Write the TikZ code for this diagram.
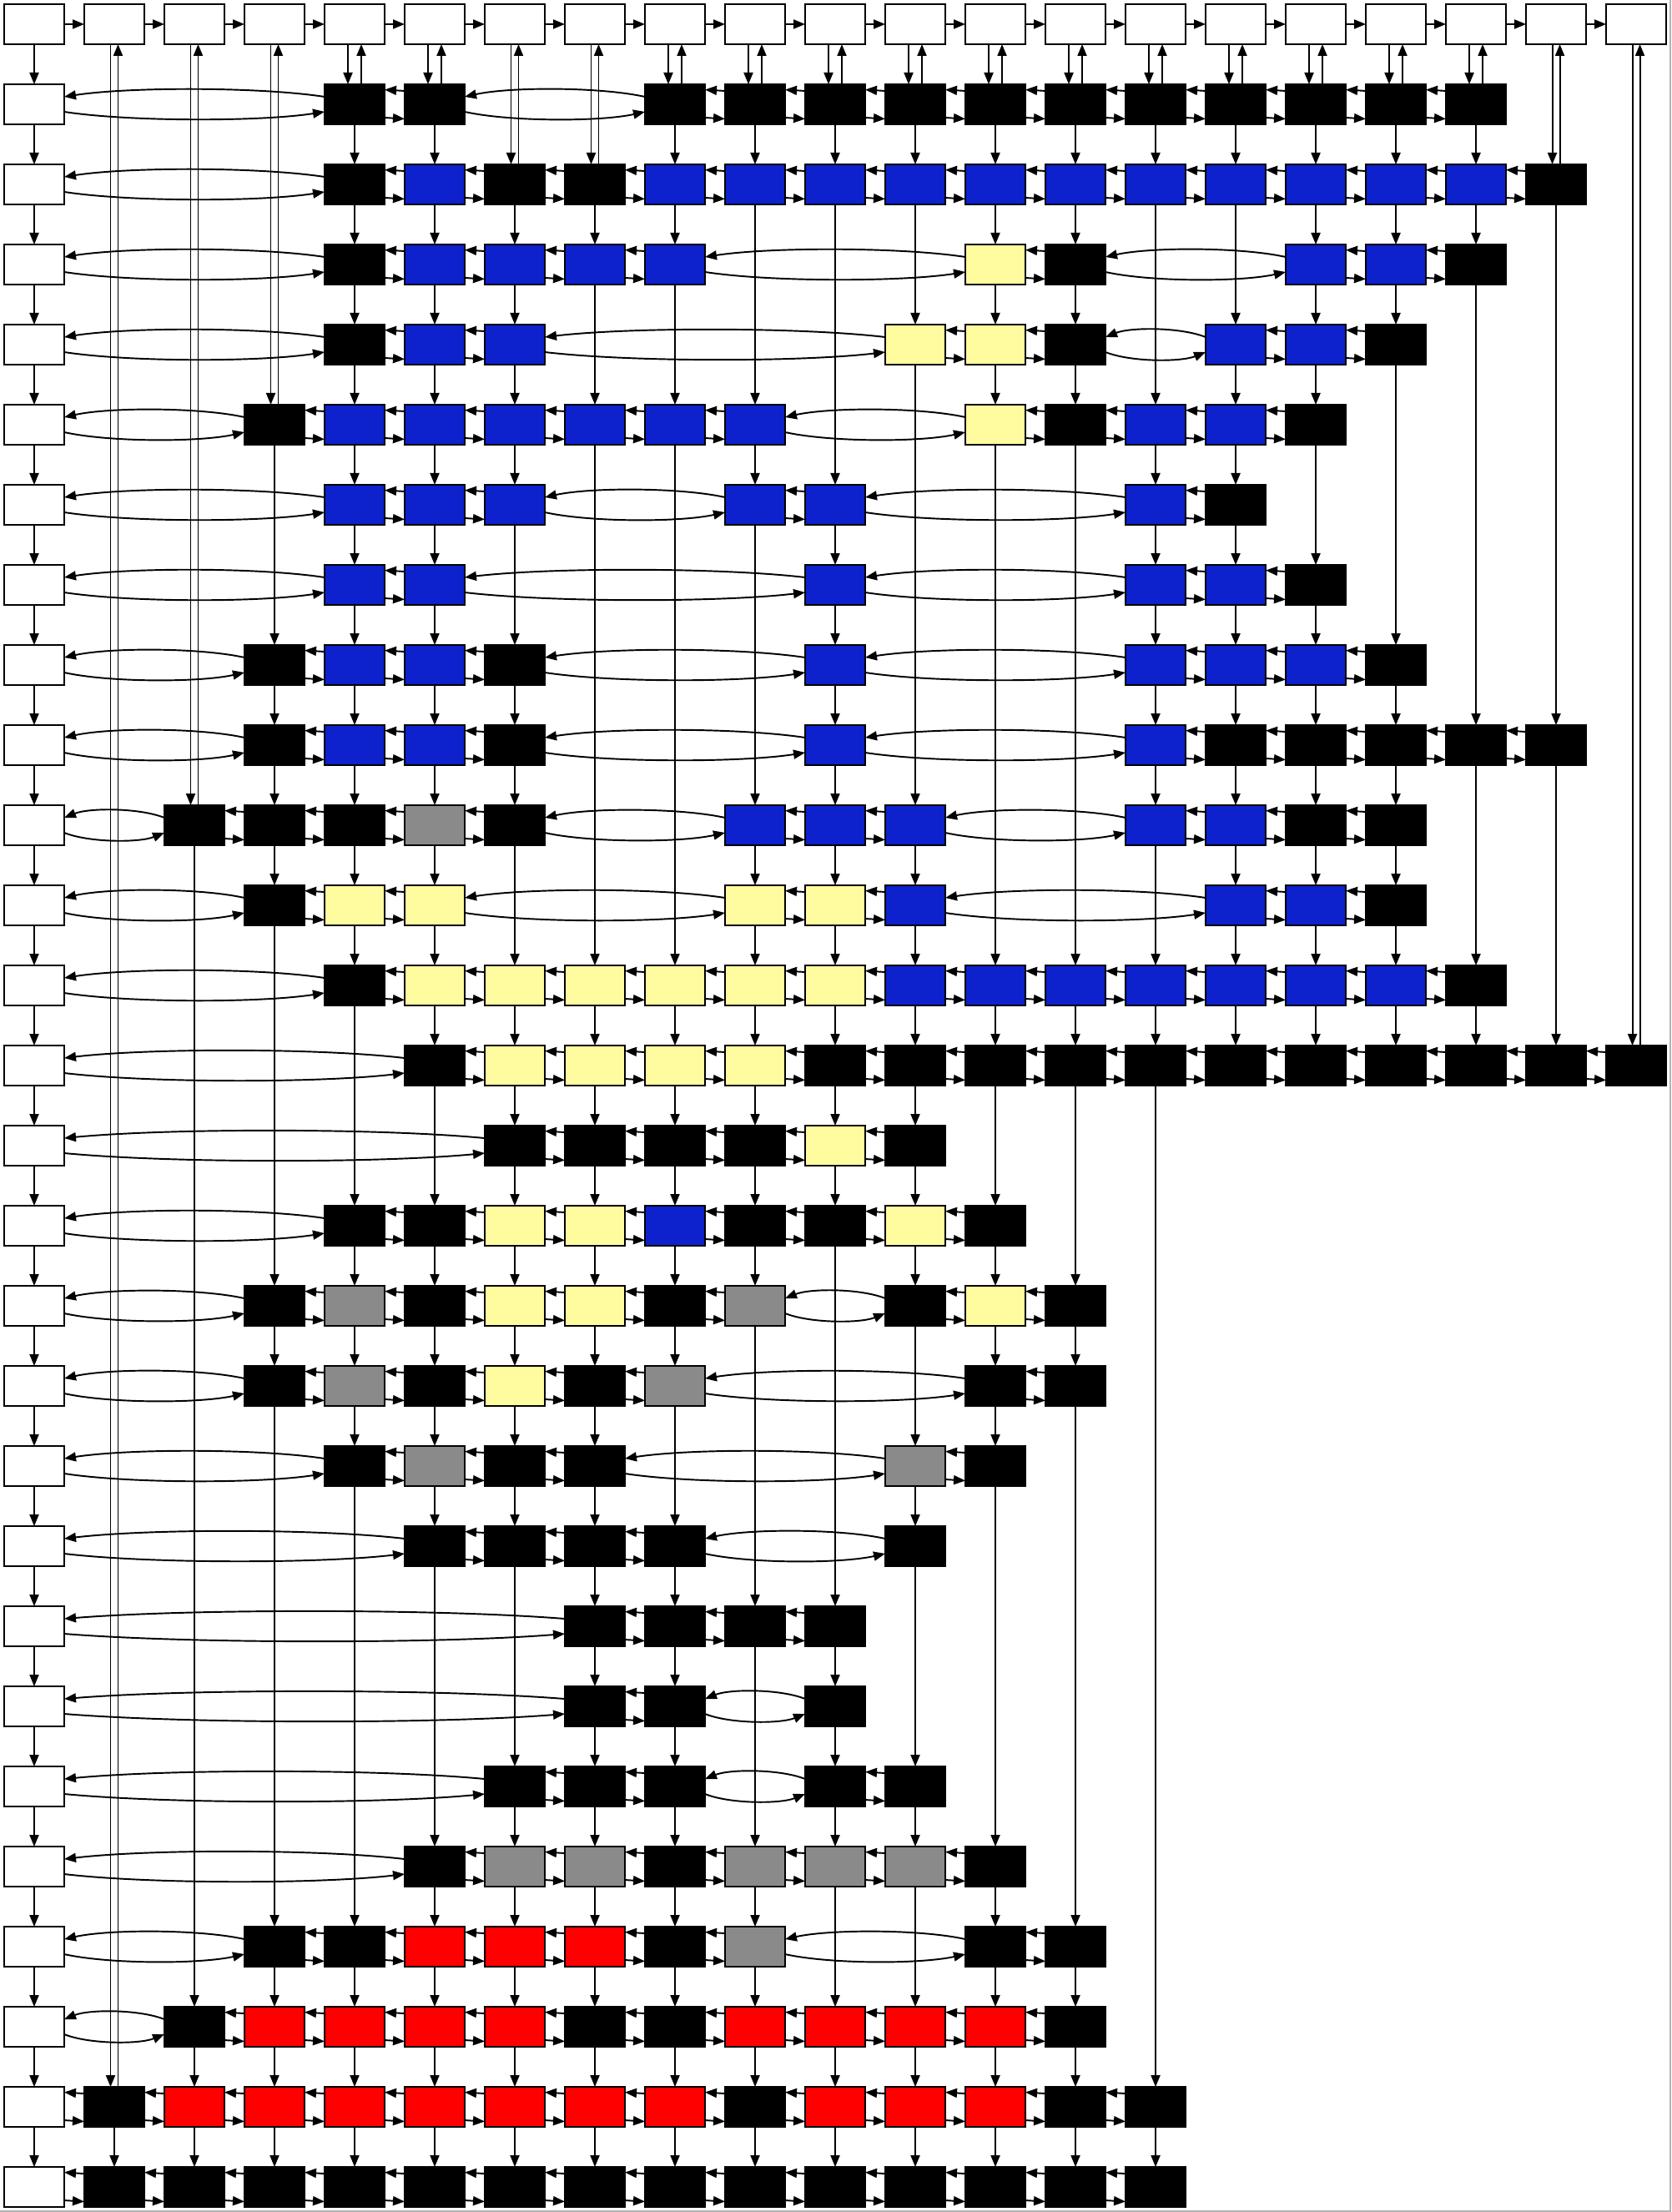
\documentclass[tikz,border=0pt]{standalone}
\usetikzlibrary{arrows.meta,calc}
\definecolor{bk}{RGB}{0,0,0}
\definecolor{bl}{RGB}{13,33,204}
\definecolor{ye}{RGB}{255,252,160}
\definecolor{gy}{RGB}{138,138,138}
\definecolor{rd}{RGB}{255,0,0}

\newcommand\rowlink[3]{%
  \pgfmathtruncatemacro\colgap{#3-#2}%
  \ifnum\colgap=1
    \draw[ptr] ($(n#1-#3.west)+(0,0.16)$) -- ($(n#1-#2.east)+(0,0.175)$);
    \draw[ptr] ($(n#1-#2.east)+(0,-0.16)$) -- ($(n#1-#3.west)+(0,-0.175)$);
  \else
    \draw[ptr] ($(n#1-#3.west)+(0,0.09)$)
      .. controls ($(n#1-#3.west)!0.25!(n#1-#2.east)+(0,0.21)$)
      and ($(n#1-#3.west)!0.75!(n#1-#2.east)+(0,0.21)$)
      .. ($(n#1-#2.east)+(0,0.09)$);
    \draw[ptr] ($(n#1-#2.east)+(0,-0.09)$)
      .. controls ($(n#1-#2.east)!0.25!(n#1-#3.west)+(0,-0.21)$)
      and ($(n#1-#2.east)!0.75!(n#1-#3.west)+(0,-0.21)$)
      .. ($(n#1-#3.west)+(0,-0.09)$);
  \fi}
\newcommand\collink[2]{%
  \edef\uprow{\csname lastrow#2\endcsname}%
  \ifnum\uprow=0
    \ifnum#1=1 \def\pairsep{0.08}\else\def\pairsep{0.045}\fi
    \draw[ptr] ($(n0-#2.south)+(-\pairsep,0)$) -- ($(n#1-#2.north)+(-\pairsep,0)$);
    \draw[ptr] ($(n#1-#2.north)+(\pairsep,0)$) -- ($(n0-#2.south)+(\pairsep,0)$);
  \else
    \draw[ptr] (n\uprow-#2.south) -- (n#1-#2.north);
  \fi
  \expandafter\xdef\csname lastrow#2\endcsname{#1}}
\newcommand\cellrow[2]{%
  \xdef\prevcol{0}%
  \foreach \c/\f in {#2}{%
    \node[cell,fill=\f] (n#1-\c) at ({0.96*\c},{-0.96*#1}) {};
    \rowlink{#1}{\prevcol}{\c}%
    \collink{#1}{\c}%
    \xdef\prevcol{\c}%
  }}

\begin{document}
\begin{tikzpicture}[
    cell/.style={draw=black, line width=0.015cm, minimum width=0.72cm,
      minimum height=0.48cm, inner sep=0pt, outer sep=0pt},
    ptr/.style={line width=0.55pt, -{Triangle[length=0.14cm,width=0.11cm]}}]
  \useasboundingbox (-0.41,0.29) rectangle (19.62,-26.22);
  \draw[black!30, line width=0.025cm] (19.61,0.29) -- (19.61,-26.21) -- (-0.41,-26.21);
  \foreach \c in {0,...,20}
    \node[cell,fill=white] (n0-\c) at ({0.96*\c},0) {};
  \foreach \c [remember=\c as \p (initially 0)] in {1,...,20}
    \draw[ptr] (n0-\p.east) -- (n0-\c.west);
  \foreach \r in {1,...,27}
    \node[cell,fill=white] (n\r-0) at (0,{-0.96*\r}) {};
  \foreach \r [remember=\r as \p (initially 0)] in {1,...,27}
    \draw[ptr] (n\p-0.south) -- (n\r-0.north);
  \foreach \c in {1,...,20}
    {\expandafter\xdef\csname lastrow\c\endcsname{0}}
  \cellrow{1}{4/bk,5/bk,8/bk,9/bk,10/bk,11/bk,12/bk,13/bk,14/bk,15/bk,16/bk,17/bk,18/bk}
  \cellrow{2}{4/bk,5/bl,6/bk,7/bk,8/bl,9/bl,10/bl,11/bl,12/bl,13/bl,14/bl,15/bl,16/bl,17/bl,18/bl,19/bk}
  \cellrow{3}{4/bk,5/bl,6/bl,7/bl,8/bl,12/ye,13/bk,16/bl,17/bl,18/bk}
  \cellrow{4}{4/bk,5/bl,6/bl,11/ye,12/ye,13/bk,15/bl,16/bl,17/bk}
  \cellrow{5}{3/bk,4/bl,5/bl,6/bl,7/bl,8/bl,9/bl,12/ye,13/bk,14/bl,15/bl,16/bk}
  \cellrow{6}{4/bl,5/bl,6/bl,9/bl,10/bl,14/bl,15/bk}
  \cellrow{7}{4/bl,5/bl,10/bl,14/bl,15/bl,16/bk}
  \cellrow{8}{3/bk,4/bl,5/bl,6/bk,10/bl,14/bl,15/bl,16/bl,17/bk}
  \cellrow{9}{3/bk,4/bl,5/bl,6/bk,10/bl,14/bl,15/bk,16/bk,17/bk,18/bk,19/bk}
  \cellrow{10}{2/bk,3/bk,4/bk,5/gy,6/bk,9/bl,10/bl,11/bl,14/bl,15/bl,16/bk,17/bk}
  \cellrow{11}{3/bk,4/ye,5/ye,9/ye,10/ye,11/bl,15/bl,16/bl,17/bk}
  \cellrow{12}{4/bk,5/ye,6/ye,7/ye,8/ye,9/ye,10/ye,11/bl,12/bl,13/bl,14/bl,15/bl,16/bl,17/bl,18/bk}
  \cellrow{13}{5/bk,6/ye,7/ye,8/ye,9/ye,10/bk,11/bk,12/bk,13/bk,14/bk,15/bk,16/bk,17/bk,18/bk,19/bk,20/bk}
  \cellrow{14}{6/bk,7/bk,8/bk,9/bk,10/ye,11/bk}
  \cellrow{15}{4/bk,5/bk,6/ye,7/ye,8/bl,9/bk,10/bk,11/ye,12/bk}
  \cellrow{16}{3/bk,4/gy,5/bk,6/ye,7/ye,8/bk,9/gy,11/bk,12/ye,13/bk}
  \cellrow{17}{3/bk,4/gy,5/bk,6/ye,7/bk,8/gy,12/bk,13/bk}
  \cellrow{18}{4/bk,5/gy,6/bk,7/bk,11/gy,12/bk}
  \cellrow{19}{5/bk,6/bk,7/bk,8/bk,11/bk}
  \cellrow{20}{7/bk,8/bk,9/bk,10/bk}
  \cellrow{21}{7/bk,8/bk,10/bk}
  \cellrow{22}{6/bk,7/bk,8/bk,10/bk,11/bk}
  \cellrow{23}{5/bk,6/gy,7/gy,8/bk,9/gy,10/gy,11/gy,12/bk}
  \cellrow{24}{3/bk,4/bk,5/rd,6/rd,7/rd,8/bk,9/gy,12/bk,13/bk}
  \cellrow{25}{2/bk,3/rd,4/rd,5/rd,6/rd,7/bk,8/bk,9/rd,10/rd,11/rd,12/rd,13/bk}
  \cellrow{26}{1/bk,2/rd,3/rd,4/rd,5/rd,6/rd,7/rd,8/rd,9/bk,10/rd,11/rd,12/rd,13/bk,14/bk}
  \cellrow{27}{1/bk,2/bk,3/bk,4/bk,5/bk,6/bk,7/bk,8/bk,9/bk,10/bk,11/bk,12/bk,13/bk,14/bk}
\end{tikzpicture}
\end{document}
